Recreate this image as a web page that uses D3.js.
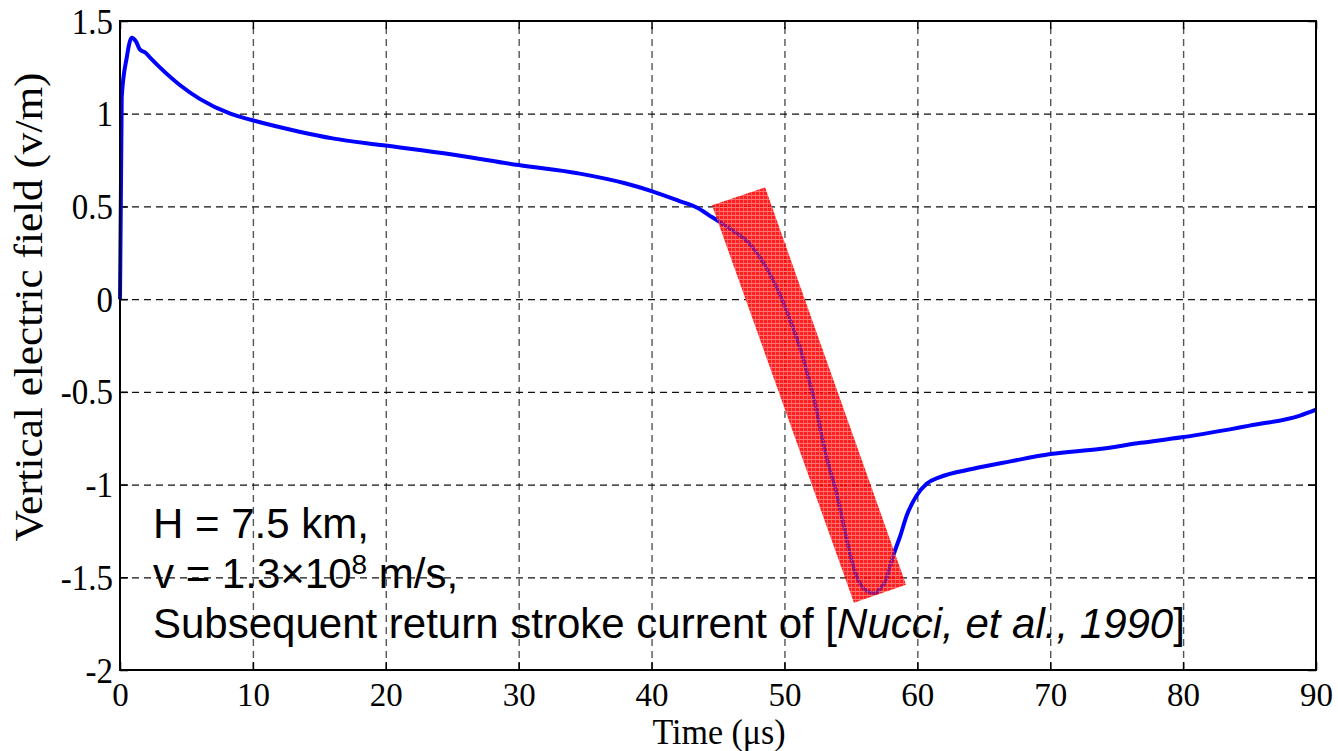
<!DOCTYPE html>
<html>
<head>
<meta charset="utf-8">
<script src="https://cdn.jsdelivr.net/npm/d3@7"></script>
<style>
  html, body { margin: 0; padding: 0; background: #fff; }
  svg { display: block; }
</style>
</head>
<body>
<svg id="chart" width="1338" height="751"></svg>
<script>
// ---- data ----
const timeUs = [0, 0.13, 0.5, 0.88, 1.2, 1.5, 1.9, 2.3, 3.0, 4.5, 6.0, 8.3, 9.9, 13.5, 16.0, 19.8, 25, 30, 34.6, 38, 40, 42.1, 43.4, 44.6, 45.9, 47.4, 48.7, 49.7, 50.4, 51.2, 51.9, 52.4, 52.9, 53.4, 53.9, 54.4, 54.9, 55.4, 55.9, 56.4, 56.8, 57.2, 57.6, 57.9, 58.3, 58.7, 59.2, 59.95, 60.7, 61.7, 64.2, 67, 70, 73.7, 76.8, 79.9, 85, 88.8, 90];
const fieldVm = [0, 1.09, 1.3, 1.41, 1.39, 1.345, 1.33, 1.3, 1.25, 1.155, 1.08, 1.0, 0.966, 0.903, 0.867, 0.83, 0.78, 0.723, 0.677, 0.625, 0.583, 0.529, 0.494, 0.44, 0.38, 0.296, 0.162, 0.018, -0.108, -0.269, -0.449, -0.592, -0.77, -0.915, -1.04, -1.2, -1.364, -1.49, -1.555, -1.58, -1.585, -1.56, -1.52, -1.45, -1.36, -1.28, -1.167, -1.059, -0.996, -0.96, -0.915, -0.875, -0.835, -0.808, -0.775, -0.745, -0.682, -0.628, -0.596];
// highlighted band (corners in data units: time, field)
const bandTime = [44.55, 48.54, 59.15, 55.23];
const bandField = [0.506, 0.603, -1.54, -1.637];
const xTicks = [0, 10, 20, 30, 40, 50, 60, 70, 80, 90];
const xTickLabels = ["0", "10", "20", "30", "40", "50", "60", "70", "80", "90"];
const yTicks = [1.5, 1, 0.5, 0, -0.5, -1, -1.5, -2];
const yTickLabels = ["1.5", "1", "0.5", "0", "-0.5", "-1", "-1.5", "-2"];
const xLabel = "Time (\u03bcs)";
const yLabel = "Vertical electric field (v/m)";

// ---- layout ----
const L = 120, R = 1316, T = 21, B = 670;
const svg = d3.select("#chart");
const x = d3.scaleLinear().domain([0, 90]).range([L, R]);
const y = d3.scaleLinear().domain([-2, 1.5]).range([B, T]);
const serif = "'Liberation Serif', 'Times New Roman', serif";
const sans = "'Liberation Sans', Arial, sans-serif";

// defs: band pattern + clip
const defs = svg.append("defs");
const pat = defs.append("pattern").attr("id", "hatch").attr("patternUnits", "userSpaceOnUse")
  .attr("width", 4).attr("height", 4);
pat.append("rect").attr("width", 4).attr("height", 4).attr("fill", "#ff0000").attr("fill-opacity", 0.88);
pat.append("rect").attr("x", 0).attr("y", 3).attr("width", 4).attr("height", 1).attr("fill", "#ff8080").attr("fill-opacity", 0.9);
pat.append("rect").attr("x", 3).attr("y", 0).attr("width", 1).attr("height", 4).attr("fill", "#ff6a6a").attr("fill-opacity", 0.9);

const bandPts = bandTime.map((t, i) => [x(t), y(bandField[i])]);
const bandPath = "M" + bandPts.map(p => p.join(",")).join("L") + "Z";
defs.append("clipPath").attr("id", "bandClip").append("path").attr("d", bandPath);

// ---- grid ----
const gridX = svg.append("g").attr("transform", `translate(0,${B})`)
  .call(d3.axisBottom(x).tickValues(xTicks.slice(1, -1)).tickSize(-(B - T)).tickFormat(""));
gridX.select(".domain").remove();
gridX.selectAll("line").attr("stroke", "#555").attr("stroke-width", 1.4).attr("stroke-dasharray", "7,5");

const gridY = svg.append("g").attr("transform", `translate(${L},0)`)
  .call(d3.axisLeft(y).tickValues(yTicks.slice(1, -1)).tickSize(-(R - L)).tickFormat(""));
gridY.select(".domain").remove();
gridY.selectAll("line").attr("stroke", "#111").attr("stroke-width", 1.2).attr("stroke-dasharray", "7,5");

// ---- inner tick marks on all four sides ----
const tk = 8;
[[d3.axisBottom(x).tickValues(xTicks), `translate(0,${B})`],
 [d3.axisTop(x).tickValues(xTicks), `translate(0,${T})`],
 [d3.axisLeft(y).tickValues(yTicks), `translate(${L},0)`],
 [d3.axisRight(y).tickValues(yTicks), `translate(${R},0)`]].forEach(([ax, tr]) => {
  const g = svg.append("g").attr("transform", tr).call(ax.tickSize(-tk).tickFormat(""));
  g.select(".domain").remove();
  g.selectAll("line").attr("stroke", "#000").attr("stroke-width", 1.5);
});

// ---- curve ----
const pts = timeUs.map((t, i) => [t, fieldVm[i]]);
const line = d3.line().x(d => x(d[0])).y(d => y(d[1])).curve(d3.curveMonotoneX);
svg.append("path").attr("d", line(pts)).attr("fill", "none")
  .attr("stroke", "#0000ff").attr("stroke-width", 4).attr("stroke-linejoin", "round");

// ---- band ----
svg.append("path").attr("d", bandPath).attr("fill", "url(#hatch)");
svg.append("path").attr("d", line(pts)).attr("fill", "none").attr("clip-path", "url(#bandClip)")
  .attr("stroke", "#5a1ab8").attr("stroke-opacity", 0.75).attr("stroke-width", 3.4)
  .attr("stroke-dasharray", "2,1");

// ---- frame ----
svg.append("rect").attr("x", L).attr("y", T).attr("width", R - L).attr("height", B - T)
  .attr("fill", "none").attr("stroke", "#000").attr("stroke-width", 2);

// ---- tick labels via axes ----
const xl = svg.append("g").attr("transform", `translate(0,${B})`)
  .call(d3.axisBottom(x).tickValues(xTicks).tickSize(0).tickFormat((d, i) => xTickLabels[i]));
xl.select(".domain").remove();
xl.selectAll("text").attr("y", 0).attr("dy", null)
  .attr("transform", `translate(0,35.5) scale(1,1.05)`)
  .attr("font-family", serif).attr("font-size", 33).attr("fill", "#000").attr("text-anchor", "middle");

const yl = svg.append("g").attr("transform", `translate(${L},0)`)
  .call(d3.axisLeft(y).tickValues(yTicks).tickSize(0).tickFormat((d, i) => yTickLabels[i]));
yl.select(".domain").remove();
yl.selectAll("text").attr("x", 0).attr("dy", null).attr("y", 0)
  .attr("transform", `translate(-7,12) scale(1,1.1)`)
  .attr("font-family", serif).attr("font-size", 33).attr("fill", "#000").attr("text-anchor", "end");

// ---- axis titles ----
svg.append("text").attr("transform", `translate(${(L + R) / 2 + 1},743.5) scale(1,1.05)`)
  .attr("text-anchor", "middle").attr("font-family", serif).attr("font-size", 34).text(xLabel);
svg.append("text").attr("transform", `translate(42,307) rotate(-90) scale(1.08,1)`)
  .attr("text-anchor", "middle").attr("font-family", serif).attr("font-size", 40).text(yLabel);

// ---- annotation ----
const ann = svg.append("g").attr("font-family", sans).attr("font-size", 42).attr("fill", "#000");
ann.append("text").attr("x", 153).attr("y", 538).text("H = 7.5 km,");
const t2 = ann.append("text").attr("x", 153).attr("y", 588);
t2.append("tspan").text("v = 1.3\u00d710");
t2.append("tspan").attr("font-size", 28).attr("dy", -14).text("8");
t2.append("tspan").attr("dy", 14).text(" m/s,");
const t3 = ann.append("text").attr("x", 153).attr("y", 638);
t3.append("tspan").text("Subsequent return stroke current of [");
t3.append("tspan").attr("font-style", "italic").text("Nucci, et al., 1990");
t3.append("tspan").text("]");
</script>
</body>
</html>
